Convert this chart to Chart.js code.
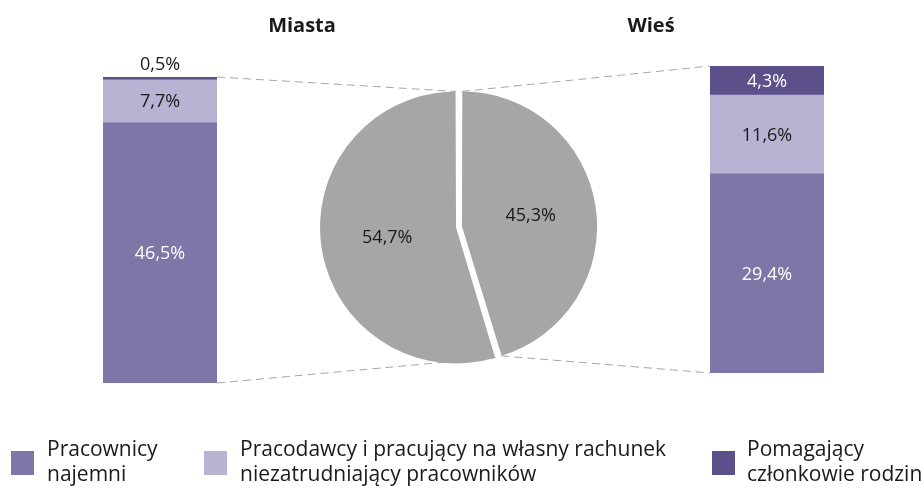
<!DOCTYPE html>
<html>
<head>
<meta charset="utf-8">
<script src="https://cdn.jsdelivr.net/npm/chart.js@4"></script>
<style>
  body { margin: 0; background: #fff; }
  #wrap { position: relative; width: 924px; height: 488px; overflow: hidden; font-family: "Open Sans", sans-serif; color: #1a1a1a; }
  canvas { position: absolute; }
  .title { position: absolute; top: 11px; font-weight: bold; font-size: 20px; transform: translateX(-50%); white-space: nowrap; }
  .sq { position: absolute; top: 451px; width: 23px; height: 24px; }
  .lg { position: absolute; top: 436px; font-size: 21px; line-height: 25px; white-space: nowrap; }
</style>
</head>
<body>
<div id="wrap">
  <canvas id="lines" width="924" height="488" style="left:0;top:0;z-index:0"></canvas>
  <canvas id="barLeft" width="154" height="336" style="left:83px;top:47px;z-index:1"></canvas>
  <canvas id="pie" width="300" height="300" style="left:309px;top:77px;z-index:1"></canvas>
  <canvas id="barRight" width="154" height="337" style="left:690px;top:36px;z-index:1"></canvas>
  <div class="title" style="left:302px">Miasta</div>
  <div class="title" style="left:651px">Wieś</div>
  <div id="legend"></div>
</div>
<script>
const seriesNames = [
  ['Pracownicy', 'najemni'],
  ['Pracodawcy i pracujący na własny rachunek', 'niezatrudniający pracowników'],
  ['Pomagający', 'członkowie rodzin']
];
const seriesColors = ['#7e76a6', '#b8b2d3', '#5d4f8a'];
const miastaValues = [46.5, 7.7, 0.5];
const wiesValues = [29.4, 11.6, 4.3];
const pieLabels = ['Wieś', 'Miasta'];
const pieValues = [45.3, 54.7];

const fmt = v => v.toFixed(1).replace('.', ',') + '%';
const font = '18px "Open Sans", sans-serif';

// value labels inside the stacked bars
const barLabels = {
  id: 'barLabels',
  afterDatasetsDraw(chart) {
    const ctx = chart.ctx;
    ctx.save();
    ctx.font = font;
    ctx.textAlign = 'center';
    ctx.textBaseline = 'middle';
    chart.data.datasets.forEach((ds, i) => {
      const el = chart.getDatasetMeta(i).data[0];
      const h = el.base - el.y;
      let y = (el.y + el.base) / 2;
      let color = i === 1 ? '#1a1a1a' : '#ffffff';
      if (h < 14) { y = el.y - 13; color = '#1a1a1a'; }
      ctx.fillStyle = color;
      ctx.fillText(fmt(ds.data[0]), el.x, y + 1);
    });
    ctx.restore();
  }
};

const pieText = {
  id: 'pieText',
  afterDatasetsDraw(chart) {
    const ctx = chart.ctx;
    ctx.save();
    ctx.font = font;
    ctx.textAlign = 'center';
    ctx.textBaseline = 'middle';
    ctx.fillStyle = '#1a1a1a';
    chart.getDatasetMeta(0).data.forEach((arc, i) => {
      const p = arc.tooltipPosition();
      ctx.fillText(fmt(chart.data.datasets[0].data[i]), p.x, p.y);
    });
    ctx.restore();
  }
};

function makeBar(id, label, values, padTop) {
  const total = values.reduce((a, b) => a + b, 0);
  return new Chart(document.getElementById(id), {
    type: 'bar',
    data: {
      labels: [label],
      datasets: values.map((v, i) => ({
        label: seriesNames[i].join(' '),
        data: [v],
        backgroundColor: seriesColors[i],
        borderWidth: 0,
        barPercentage: 1,
        categoryPercentage: 1
      }))
    },
    options: {
      responsive: false,
      animation: false,
      events: [],
      layout: { padding: { top: padTop, left: 20, right: 20, bottom: 0 } },
      plugins: { legend: { display: false }, tooltip: { enabled: false } },
      scales: {
        x: { stacked: true, display: false },
        y: { stacked: true, display: false, min: 0, max: total }
      }
    },
    plugins: [barLabels]
  });
}

const left = makeBar('barLeft', 'Miasta', miastaValues, 30);
const right = makeBar('barRight', 'Wieś', wiesValues, 30);

const pie = new Chart(document.getElementById('pie'), {
  type: 'pie',
  data: {
    labels: pieLabels,
    datasets: [{
      data: pieValues,
      backgroundColor: '#a6a6a6',
      borderWidth: 0,
      offset: 12,
      hoverOffset: 0
    }]
  },
  options: {
    responsive: false,
    animation: false,
    events: [],
    radius: 133,
    plugins: { legend: { display: false }, tooltip: { enabled: false } }
  },
  plugins: [pieText]
});

// dashed connector lines, from bar corners to the slice edges
function arcPoint(arc, angle) {
  const o = (arc.options.offset || 0) / 4;
  const half = (arc.startAngle + arc.endAngle) / 2;
  const circ = arc.endAngle - arc.startAngle;
  const r = arc.outerRadius + o * (1 - Math.sin(Math.min(Math.PI, circ)));
  const c = pie.canvas;
  return {
    x: c.offsetLeft + arc.x + Math.cos(half) * o + Math.cos(angle) * r,
    y: c.offsetTop + arc.y + Math.sin(half) * o + Math.sin(angle) * r
  };
}
function barCorner(chart, side) {
  const n = chart.data.datasets.length;
  const top = chart.getDatasetMeta(n - 1).data[0];
  const bottom = chart.getDatasetMeta(0).data[0];
  const c = chart.canvas;
  const x = c.offsetLeft + top.x + side * top.width / 2;
  return { top: { x, y: c.offsetTop + top.y }, bottom: { x, y: c.offsetTop + bottom.base } };
}

const arcs = pie.getDatasetMeta(0).data;
const lc = barCorner(left, 1);
const rc = barCorner(right, -1);
const segs = [
  [lc.top, arcPoint(arcs[1], arcs[1].endAngle)],
  [lc.bottom, arcPoint(arcs[1], arcs[1].startAngle)],
  [arcPoint(arcs[0], arcs[0].startAngle), rc.top],
  [arcPoint(arcs[0], arcs[0].endAngle), rc.bottom]
];
const lctx = document.getElementById('lines').getContext('2d');
lctx.strokeStyle = '#a6a6a6';
lctx.lineWidth = 1;
lctx.setLineDash([8, 5]);
segs.forEach(([a, b]) => {
  lctx.beginPath();
  lctx.moveTo(a.x, a.y);
  lctx.lineTo(b.x, b.y);
  lctx.stroke();
});

// legend
const sqX = [11, 204, 712];
const txtX = [47, 240, 747];
const legend = document.getElementById('legend');
seriesNames.forEach((lines, i) => {
  const sq = document.createElement('div');
  sq.className = 'sq';
  sq.style.left = sqX[i] + 'px';
  sq.style.background = seriesColors[i];
  legend.appendChild(sq);
  const t = document.createElement('div');
  t.className = 'lg';
  t.style.left = txtX[i] + 'px';
  t.innerHTML = lines.join('<br>');
  legend.appendChild(t);
});
</script>
</body>
</html>
